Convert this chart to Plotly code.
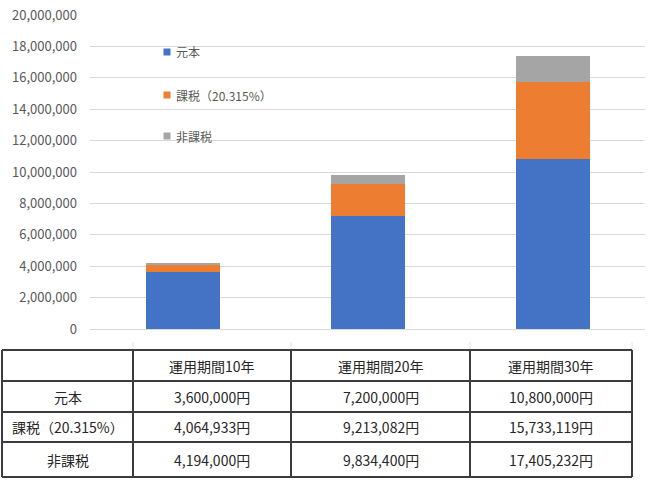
import plotly.graph_objects as go

# ---- data ----
periods = ["運用期間10年", "運用期間20年", "運用期間30年"]
series_names = ["元本", "課税（20.315%）", "非課税"]
principal = [3600000, 7200000, 10800000]
taxed = [4064933, 9213082, 15733119]
untaxed = [4194000, 9834400, 17405232]
colors = ["#4472C4", "#ED7D31", "#A5A5A5"]
y_ticks = list(range(0, 20000001, 2000000))

# stacked segments (each bar shows the increment over the previous series)
seg_principal = principal
seg_taxed = [t - p for t, p in zip(taxed, principal)]
seg_untaxed = [u - t for u, t in zip(untaxed, taxed)]
segments = [seg_principal, seg_taxed, seg_untaxed]

W, H = 648, 485
L, R, T, B = 90, 3, 15, 156
PW, PH = W - L - R, H - T - B
FONT = "Noto Sans CJK JP"


def px(x):
    return (x - L) / PW


def py(y):
    return (H - B - y) / PH


fig = go.Figure()
for name, seg, col in zip(series_names, segments, colors):
    fig.add_trace(go.Bar(x=periods, y=seg, name=name, marker=dict(color=col, line=dict(width=0)),
                         showlegend=False))

shapes = []
annotations = []

# legend (custom, to match reference spacing)
leg_y = [52, 95, 136]
for name, col, yy in zip(series_names, colors, leg_y):
    shapes.append(dict(type="rect", xref="paper", yref="paper",
                       x0=px(163.5), x1=px(170.5), y0=py(yy + 3.5), y1=py(yy - 3.5),
                       fillcolor=col, line=dict(width=0)))
    annotations.append(dict(xref="paper", yref="paper", x=px(174), y=py(yy),
                            text=name, showarrow=False, xanchor="left", yanchor="middle",
                            font=dict(family=FONT, size=12, color="#595959")))

# table
col_x = [2, 133, 291, 470, 632]
row_y = [350, 381, 412, 442, 477]
line_col = "#3C3C3C"
for yy in row_y:
    shapes.append(dict(type="line", xref="paper", yref="paper",
                       x0=px(col_x[0]), x1=px(col_x[-1]), y0=py(yy), y1=py(yy),
                       line=dict(color=line_col, width=2)))
for xx in col_x:
    shapes.append(dict(type="line", xref="paper", yref="paper",
                       x0=px(xx), x1=px(xx), y0=py(row_y[0]), y1=py(row_y[-1]),
                       line=dict(color=line_col, width=2)))
# faint axis tick marks above the table
for xx in col_x[1:]:
    shapes.append(dict(type="line", xref="paper", yref="paper",
                       x0=px(xx), x1=px(xx), y0=py(342), y1=py(349),
                       line=dict(color="#E0E0E0", width=1)))


def cell_text(ci, ri, text):
    xc = (col_x[ci] + col_x[ci + 1]) / 2
    yc = (row_y[ri] + row_y[ri + 1]) / 2
    annotations.append(dict(xref="paper", yref="paper", x=px(xc), y=py(yc),
                            text=text, showarrow=False, xanchor="center", yanchor="middle",
                            font=dict(family=FONT, size=14, color="#262626")))


for i, p in enumerate(periods):
    cell_text(i + 1, 0, p)
rows = [principal, taxed, untaxed]
for r, (name, vals) in enumerate(zip(series_names, rows)):
    cell_text(0, r + 1, name)
    for c, v in enumerate(vals):
        cell_text(c + 1, r + 1, f"{v:,}円")

fig.update_layout(
    width=W, height=H,
    margin=dict(l=L, r=R, t=T, b=B, pad=0),
    paper_bgcolor="white", plot_bgcolor="white",
    barmode="stack", bargap=0.6,
    shapes=shapes, annotations=annotations,
    font=dict(family=FONT),
)
fig.update_xaxes(showticklabels=False, showgrid=False, showline=False, zeroline=False,
                 ticks="", fixedrange=True)
fig.update_yaxes(range=[0, 20000000], tickvals=y_ticks, tickformat=",d",
                 showgrid=True, gridcolor="#D9D9D9", gridwidth=1,
                 zeroline=True, zerolinecolor="#D9D9D9", zerolinewidth=1,
                 showline=False, ticks="", ticklabelstandoff=12,
                 tickfont=dict(family=FONT, size=13, color="#595959"))

fig.write_html("out.html", config={"displayModeBar": False},
               post_script="document.body.style.margin='0';document.body.style.overflow='hidden';")
